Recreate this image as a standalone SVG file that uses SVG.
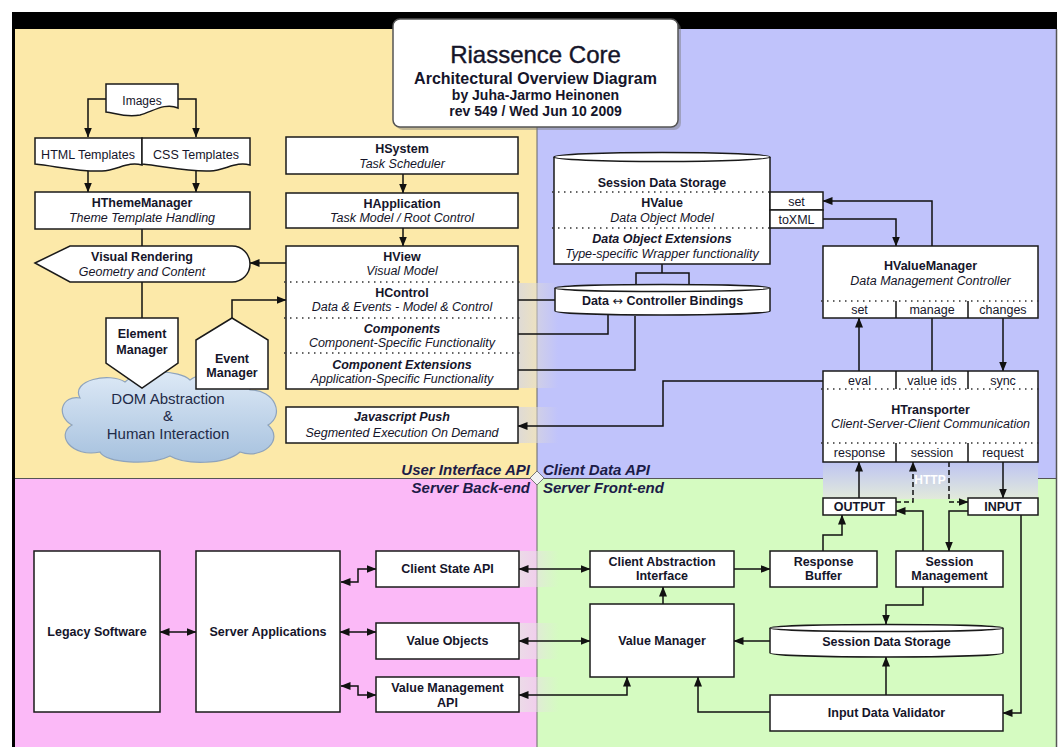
<svg xmlns="http://www.w3.org/2000/svg" width="1063" height="747" viewBox="0 0 1063 747">
<style>
text{font-family:"Liberation Sans",Arial,sans-serif;fill:#15152a;font-size:12.5px;text-anchor:middle}
.b{font-weight:bold}
.i{font-style:italic}
.bi{font-weight:bold;font-style:italic}
.box{fill:#fff;stroke:#1a1a1a;stroke-width:1.5}
.dot{stroke:#333;stroke-width:1.5;stroke-dasharray:1.5,4.5;fill:none}
.ln{fill:none;stroke:#111;stroke-width:1.5}
.dash{stroke-dasharray:5,3}
.lbl{font-size:15px;font-weight:bold;font-style:italic;fill:#1c1c48}
</style>
<defs>
<marker id="ah" viewBox="0 0 10 8" refX="9.5" refY="4" markerWidth="10" markerHeight="8" markerUnits="userSpaceOnUse" orient="auto-start-reverse"><path d="M0,0 L10,4 L0,8 Z" fill="#111"/></marker>
<linearGradient id="fadeY" x1="0" y1="0" x2="1" y2="0"><stop offset="0" stop-color="#dedad6"/><stop offset="1" stop-color="#dedad6" stop-opacity="0"/></linearGradient>
<linearGradient id="fadeP" x1="0" y1="0" x2="1" y2="0"><stop offset="0" stop-color="#ecdbe8"/><stop offset="1" stop-color="#e4e4e0" stop-opacity="0"/></linearGradient>
<linearGradient id="http" x1="0" y1="0" x2="0" y2="1"><stop offset="0" stop-color="#bec4f2"/><stop offset="1" stop-color="#e2eadb"/></linearGradient>
<linearGradient id="cloud" x1="0" y1="0" x2="0" y2="1"><stop offset="0" stop-color="#dde9f6"/><stop offset="1" stop-color="#a6c1de"/></linearGradient>
</defs>

<g id="background">
<rect x="0" y="0" width="1063" height="747" fill="#fff"/>
<rect x="15" y="29" width="522" height="449" fill="#fce9a9"/>
<rect x="537" y="29" width="519" height="449" fill="#c0c3fb"/>
<rect x="15" y="478" width="522" height="269" fill="#fbb9f7"/>
<rect x="537" y="478" width="519" height="269" fill="#d5fbc1"/>
<rect x="12" y="12" width="1045" height="17" fill="#000"/>
<rect x="12" y="12" width="3" height="735" fill="#000"/>
<line x1="1056.5" y1="29" x2="1056.5" y2="747" stroke="#555" stroke-width="1.5"/>
<line x1="15" y1="478.5" x2="1056" y2="478.5" stroke="#555"/>
<line x1="537" y1="29" x2="537" y2="747" stroke="#666"/>
<rect x="518" y="283" width="40" height="105" fill="url(#fadeY)"/>
<rect x="518" y="407" width="40" height="36" fill="url(#fadeY)"/>
<rect x="519" y="551" width="40" height="36" fill="url(#fadeP)"/>
<rect x="519" y="623" width="40" height="36" fill="url(#fadeP)"/>
<rect x="519" y="677" width="40" height="35" fill="url(#fadeP)"/>
<rect x="823" y="462" width="215" height="37" fill="url(#http)"/>
<text x="930" y="484" class="b" style="fill:#fff;font-size:12px">HTTP</text>
<path d="M537,471 L544,478 L537,485 L530,478 Z" fill="#f2f2f2" stroke="#777"/>
<text x="530" y="475" class="lbl" style="text-anchor:end">User Interface API</text>
<text x="530" y="493" class="lbl" style="text-anchor:end">Server Back-end</text>
<text x="543" y="475" class="lbl" style="text-anchor:start">Client Data API</text>
<text x="543" y="493" class="lbl" style="text-anchor:start">Server Front-end</text>
</g>

<g id="title">
<rect x="396" y="22" width="285" height="108" rx="7" fill="#777" opacity="0.45"/>
<rect x="393" y="19" width="285" height="108" rx="7" fill="#fff" stroke="#555" stroke-width="1.5"/>
<text x="535.5" y="63" style="font-size:24px;stroke:#15152a;stroke-width:0.4">Riassence Core</text>
<text x="535.5" y="84" class="b" style="font-size:16px">Architectural Overview Diagram</text>
<text x="535.5" y="100" class="b" style="font-size:14px">by Juha-Jarmo Heinonen</text>
<text x="535.5" y="116" class="b" style="font-size:14px">rev 549 / Wed Jun 10 2009</text>
</g>

<g id="connectors">
<path class="ln" d="M106,99 H88 V137" marker-end="url(#ah)"/>
<path class="ln" d="M178,99 H196 V137" marker-end="url(#ah)"/>
<path class="ln" d="M88,170 V192" marker-end="url(#ah)"/>
<path class="ln" d="M196,170 V192" marker-end="url(#ah)"/>
<path class="ln" d="M142,229 V246"/>
<path class="ln" d="M142,282 V318"/>
<path class="ln" d="M286,263 H250" marker-end="url(#ah)"/>
<path class="ln" d="M232,318 V300 H286" marker-end="url(#ah)"/>
<path class="ln" d="M403,174 V193" marker-end="url(#ah)"/>
<path class="ln" d="M403,228 V246" marker-end="url(#ah)"/>
<path class="ln" d="M518,300 H555"/>
<path class="ln" d="M518,334 H608 V315"/>
<path class="ln" d="M518,370 H635 V316"/>
<path class="ln" d="M823,381 H663 V426 H518" marker-end="url(#ah)"/>
<path class="ln" d="M662,264 V273 M636,284 V273 H689 V284"/>
<path class="ln" d="M932,246 V201 H823" marker-end="url(#ah)"/>
<path class="ln" d="M823,219 H896 V246" marker-end="url(#ah)"/>
<path class="ln" d="M859,371 V318" marker-end="url(#ah)"/>
<path class="ln" d="M932,318 V371"/>
<path class="ln" d="M1003,318 V371" marker-end="url(#ah)"/>
<path class="ln" d="M859,498 V462" marker-end="url(#ah)"/>
<path class="ln dash" d="M896,502 H913 V462" marker-end="url(#ah)"/>
<path class="ln dash" d="M949,462 V502 H968" marker-end="url(#ah)"/>
<path class="ln" d="M1003,462 V498" marker-end="url(#ah)"/>
<path class="ln" d="M923,551 V511 H896" marker-end="url(#ah)"/>
<path class="ln" d="M968,511 H949 V551" marker-end="url(#ah)"/>
<path class="ln" d="M1021,515 V713 H1003" marker-end="url(#ah)"/>
<path class="ln" d="M823,551 V535 H842 V515" marker-end="url(#ah)"/>
<path class="ln" d="M734,569 H770" marker-end="url(#ah)"/>
<path class="ln" d="M663,604 V587" marker-end="url(#ah)"/>
<path class="ln" d="M923,587 V605 H886 V624" marker-end="url(#ah)"/>
<path class="ln" d="M770,641 H734" marker-end="url(#ah)"/>
<path class="ln" d="M886,695 V657" marker-end="url(#ah)"/>
<path class="ln" d="M770,712 H698 V677" marker-end="url(#ah)"/>
<path class="ln" d="M519,569 H590" marker-start="url(#ah)" marker-end="url(#ah)"/>
<path class="ln" d="M519,641 H590" marker-start="url(#ah)" marker-end="url(#ah)"/>
<path class="ln" d="M519,695 H627 V677" marker-start="url(#ah)" marker-end="url(#ah)"/>
<path class="ln" d="M160,632 H196" marker-start="url(#ah)" marker-end="url(#ah)"/>
<path class="ln" d="M340,632 H376" marker-start="url(#ah)" marker-end="url(#ah)"/>
<path class="ln" d="M341,582 H358 V569 H376" marker-start="url(#ah)" marker-end="url(#ah)"/>
<path class="ln" d="M341,686 H358 V695 H376" marker-start="url(#ah)" marker-end="url(#ah)"/>
</g>

<g id="images">
<path class="box" d="M106,84 H178 V108 C165,102 152,112 140,115 C126,118 115,113 106,112 Z"/>
<text x="142" y="105" style="font-size:12px">Images</text>
</g>
<g id="templates">
<path class="box" d="M35,138 H142 V165 C128,161 118,170 102,171 C80,172 55,166 35,164 Z"/>
<path class="box" d="M142,138 H250 V165 C236,161 226,170 210,171 C188,172 163,166 142,164 Z"/>
<text x="88" y="159">HTML Templates</text>
<text x="196" y="159">CSS Templates</text>
</g>
<g id="hthememanager">
<rect class="box" x="35" y="192" width="215" height="37"/>
<text x="142" y="207" class="b">HThemeManager</text>
<text x="142" y="222" class="i">Theme Template Handling</text>
</g>
<g id="visual-rendering">
<path class="box" d="M35,263 L70,246 H232 A18,18 0 0 1 232,282 H70 Z"/>
<text x="142" y="261" class="b">Visual Rendering</text>
<text x="142" y="276" class="i">Geometry and Content</text>
</g>
<g id="dom-cloud">
<path d="M80,398 C70,380 110,372 125,382 C140,368 180,370 190,380 C205,368 250,372 250,390 C275,390 285,415 268,425 C285,440 262,460 240,452 C225,465 185,465 170,456 C150,466 105,463 100,452 C72,458 55,435 72,425 C55,415 62,395 80,398 Z" fill="url(#cloud)" stroke="#8ea3bc" stroke-width="1.2"/>
<text x="168" y="404" style="font-size:15px;fill:#1f2b48">DOM Abstraction</text>
<text x="168" y="421" style="font-size:15px;fill:#1f2b48">&amp;</text>
<text x="168" y="439" style="font-size:15px;fill:#1f2b48">Human Interaction</text>
</g>
<g id="element-manager">
<path class="box" d="M106,318 H178 V363 L142,388 L106,363 Z"/>
<text x="142" y="338" class="b">Element</text>
<text x="142" y="354" class="b">Manager</text>
</g>
<g id="event-manager">
<path class="box" d="M196,389 V340 L232,318 L268,340 V389 Z"/>
<text x="232" y="363" class="b">Event</text>
<text x="232" y="377" class="b">Manager</text>
</g>

<g id="hsystem">
<rect class="box" x="286" y="137" width="232" height="37"/>
<text x="402" y="152.5" class="b">HSystem</text>
<text x="402" y="168" class="i">Task Scheduler</text>
</g>
<g id="happlication">
<rect class="box" x="286" y="193" width="232" height="35"/>
<text x="402" y="207.5" class="b">HApplication</text>
<text x="402" y="222" class="i">Task Model / Root Control</text>
</g>
<g id="hview">
<rect class="box" x="286" y="246" width="232" height="143"/>
<line class="dot" x1="284" y1="282" x2="520" y2="282"/>
<line class="dot" x1="284" y1="318" x2="520" y2="318"/>
<line class="dot" x1="284" y1="353" x2="520" y2="353"/>
<text x="402" y="261" class="b">HView</text>
<text x="402" y="275" class="i">Visual Model</text>
<text x="402" y="297" class="b">HControl</text>
<text x="402" y="311" class="i">Data &amp; Events - Model &amp; Control</text>
<text x="402" y="333" class="bi">Components</text>
<text x="402" y="347" class="i">Component-Specific Functionality</text>
<text x="402" y="369" class="bi">Component Extensions</text>
<text x="402" y="383" class="i">Application-Specific Functionality</text>
</g>
<g id="javascript-push">
<rect class="box" x="286" y="407" width="232" height="36"/>
<text x="402" y="421" class="bi">Javascript Push</text>
<text x="402" y="437" class="i">Segmented Execution On Demand</text>
</g>

<g id="session-data-storage-top">
<path class="box" d="M554,157 V264 H770 V157"/>
<ellipse class="box" cx="662" cy="157" rx="108" ry="4.5"/>
<line class="dot" x1="552" y1="192" x2="772" y2="192"/>
<line class="dot" x1="552" y1="228" x2="772" y2="228"/>
<text x="662" y="186.5" class="b">Session Data Storage</text>
<text x="662" y="207" class="b">HValue</text>
<text x="662" y="221.5" class="i">Data Object Model</text>
<text x="662" y="243" class="bi">Data Object Extensions</text>
<text x="662" y="258" class="i">Type-specific Wrapper functionality</text>
</g>
<g id="hvalue-methods">
<rect class="box" x="770" y="192" width="53" height="18"/>
<rect class="box" x="770" y="210" width="53" height="18"/>
<text x="796.5" y="205.5">set</text>
<text x="796.5" y="223.5">toXML</text>
</g>
<g id="bindings">
<path class="box" d="M555,288 V311 A107.5,4 0 0 0 770,311 V288"/>
<ellipse class="box" cx="662.5" cy="288" rx="107.5" ry="3.5"/>
<text x="662.5" y="305" class="b">Data <tspan style="font-family:'DejaVu Sans',sans-serif;font-weight:normal">↔</tspan> Controller Bindings</text>
</g>
<g id="hvaluemanager">
<rect class="box" x="823" y="246" width="215" height="72"/>
<line class="dot" x1="821" y1="301" x2="1040" y2="301"/>
<line class="ln" x1="896" y1="301" x2="896" y2="318"/>
<line class="ln" x1="968" y1="301" x2="968" y2="318"/>
<text x="930.5" y="269.5" class="b">HValueManager</text>
<text x="930.5" y="285" class="i">Data Management Controller</text>
<text x="859.5" y="313.5">set</text>
<text x="932" y="313.5">manage</text>
<text x="1003" y="313.5">changes</text>
</g>
<g id="htransporter">
<rect class="box" x="823" y="371" width="215" height="91"/>
<line class="dot" x1="821" y1="389" x2="1040" y2="389"/>
<line class="dot" x1="821" y1="443" x2="1040" y2="443"/>
<line class="ln" x1="896" y1="371" x2="896" y2="389"/>
<line class="ln" x1="968" y1="371" x2="968" y2="389"/>
<line class="ln" x1="896" y1="443" x2="896" y2="462"/>
<line class="ln" x1="968" y1="443" x2="968" y2="462"/>
<text x="859.5" y="385">eval</text>
<text x="932" y="385">value ids</text>
<text x="1003" y="385">sync</text>
<text x="930.5" y="413.5" class="b">HTransporter</text>
<text x="930.5" y="427.5" class="i">Client-Server-Client Communication</text>
<text x="859.5" y="457">response</text>
<text x="932" y="457">session</text>
<text x="1003" y="457">request</text>
</g>

<g id="output">
<rect class="box" x="823" y="498" width="73" height="17"/>
<text x="859.5" y="511" class="b">OUTPUT</text>
</g>
<g id="input">
<rect class="box" x="968" y="498" width="70" height="17"/>
<text x="1003" y="511" class="b">INPUT</text>
</g>
<g id="client-abstraction-interface">
<rect class="box" x="590" y="551" width="144" height="36"/>
<text x="662" y="566" class="b">Client Abstraction</text>
<text x="662" y="580" class="b">Interface</text>
</g>
<g id="response-buffer">
<rect class="box" x="770" y="551" width="107" height="36"/>
<text x="823.5" y="566" class="b">Response</text>
<text x="823.5" y="580" class="b">Buffer</text>
</g>
<g id="session-management">
<rect class="box" x="896" y="551" width="107" height="36"/>
<text x="949.5" y="566" class="b">Session</text>
<text x="949.5" y="580" class="b">Management</text>
</g>
<g id="value-manager">
<rect class="box" x="590" y="604" width="144" height="73"/>
<text x="662" y="645" class="b">Value Manager</text>
</g>
<g id="session-data-storage-bottom">
<path class="box" d="M770,628 V653 A116.5,4 0 0 0 1003,653 V628"/>
<ellipse class="box" cx="886.5" cy="628" rx="116.5" ry="3.5"/>
<text x="886.5" y="646" class="b">Session Data Storage</text>
</g>
<g id="input-data-validator">
<rect class="box" x="770" y="695" width="233" height="36"/>
<text x="886.5" y="717" class="b">Input Data Validator</text>
</g>

<g id="legacy-software">
<rect class="box" x="34" y="551" width="126" height="161"/>
<text x="97" y="636" class="b">Legacy Software</text>
</g>
<g id="server-applications">
<rect class="box" x="196" y="551" width="144" height="161"/>
<text x="268" y="636" class="b">Server Applications</text>
</g>
<g id="client-state-api">
<rect class="box" x="376" y="551" width="143" height="36"/>
<text x="447.5" y="573" class="b">Client State API</text>
</g>
<g id="value-objects">
<rect class="box" x="376" y="623" width="143" height="36"/>
<text x="447.5" y="645" class="b">Value Objects</text>
</g>
<g id="value-management-api">
<rect class="box" x="376" y="677" width="143" height="35"/>
<text x="447.5" y="692" class="b">Value Management</text>
<text x="447.5" y="707" class="b">API</text>
</g>
</svg>
